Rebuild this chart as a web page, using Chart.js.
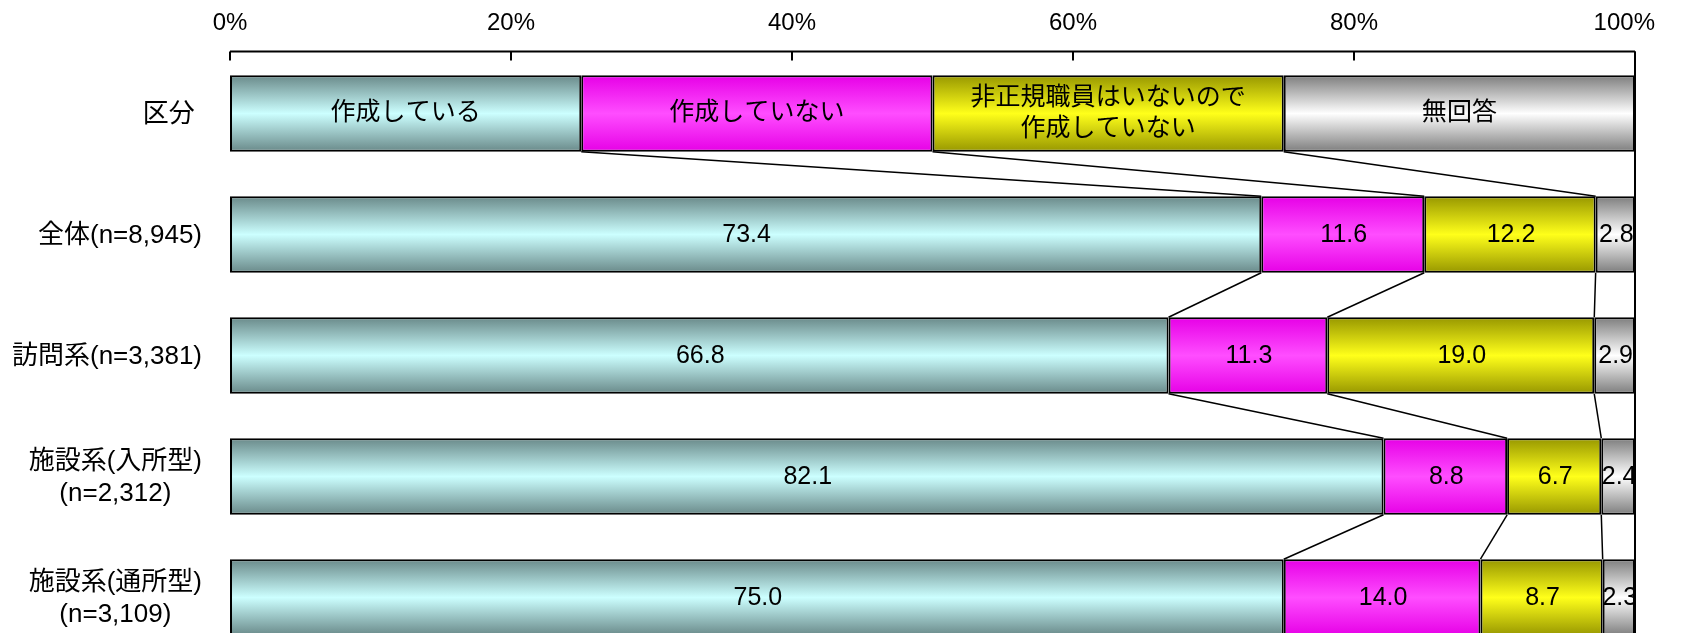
<!DOCTYPE html>
<html>
<head>
<meta charset="utf-8">
<script src="https://cdn.jsdelivr.net/npm/chart.js@4/dist/chart.umd.min.js"></script>
<style>
  html, body { margin: 0; padding: 0; background: #fff; overflow: hidden; }
  #wrap { width: 1684px; height: 633px; overflow: hidden; }
  #box { width: 1684px; height: 660px; }
</style>
</head>
<body>
<div id="wrap"><div id="box"><canvas id="myChart"></canvas></div></div>
<script>
const FONT = "\"Liberation Sans\", Arial, \"Noto Sans CJK JP\", sans-serif";

// categories (row 0 is the legend row "区分")
const categories = [
  ["区分 "],
  ["全体(n=8,945)"],
  ["訪問系(n=3,381)"],
  ["施設系(入所型)", "(n=2,312)"],
  ["施設系(通所型)", "(n=3,109)"],
];
const seriesNames = [
  ["作成している"],
  ["作成していない"],
  ["非正規職員はいないので", "作成していない"],
  ["無回答"],
];
const legendRow = [25, 25, 25, 25];
const sakusei = [73.4, 66.8, 82.1, 75.0];
const miSakusei = [11.6, 11.3, 8.8, 14.0];
const hiseikiNashi = [12.2, 19.0, 6.7, 8.7];
const muKaito = [2.8, 2.9, 2.4, 2.3];
const xTicks = [0, 20, 40, 60, 80, 100];

// dark edge / light center of each bar gradient
const colorPairs = [
  ["#698989", "#ccffff"],
  ["#e600e6", "#ff4dff"],
  ["#979700", "#ffff1a"],
  ["#7d7d7d", "#ffffff"],
];
const BAR_PCT = 0.633;

const seriesValues = [sakusei, miSakusei, hiseikiNashi, muKaito];

function barGradient(ctx, pair) {
  const chart = ctx.chart;
  const yScale = chart.scales.y;
  if (!chart.chartArea || !yScale || ctx.type !== "data") return pair[1];
  const y = yScale.getPixelForValue(ctx.dataIndex);
  const pitch = Math.abs(yScale.getPixelForValue(1) - yScale.getPixelForValue(0));
  const half = pitch * BAR_PCT / 2;
  const g = chart.ctx.createLinearGradient(0, y - half, 0, y + half);
  g.addColorStop(0, pair[0]);
  g.addColorStop(0.5, pair[1]);
  g.addColorStop(1, pair[0]);
  return g;
}

const datasets = seriesNames.map((name, k) => ({
  label: name.join(""),
  data: [legendRow[k]].concat(seriesValues[k]),
  backgroundColor: (ctx) => barGradient(ctx, colorPairs[k]),
  borderColor: "#000",
  borderWidth: 2,
  borderSkipped: false,
  barPercentage: BAR_PCT,
  categoryPercentage: 1,
}));

const extras = {
  id: "extras",
  afterDatasetsDraw(chart) {
    const c = chart.ctx;
    const area = chart.chartArea;
    const x = chart.scales.x;
    const y = chart.scales.y;
    const axisY = area.top - 1.5;
    c.save();
    c.strokeStyle = "#000";
    c.lineWidth = 1.5;

    // series lines between the rows
    const metas = chart.data.datasets.map((d, i) => chart.getDatasetMeta(i));
    for (let k = 0; k < 3; k++) {
      const els = metas[k].data;
      for (let r = 0; r < els.length - 1; r++) {
        const a = els[r];
        const b = els[r + 1];
        c.beginPath();
        c.moveTo(a.x, a.y + a.height / 2);
        c.lineTo(b.x, b.y - b.height / 2);
        c.stroke();
      }
    }

    // right edge line at 100%
    c.lineWidth = 2;
    const xr = x.getPixelForValue(100);
    c.beginPath();
    c.moveTo(xr, axisY);
    c.lineTo(xr, area.bottom);
    c.stroke();

    // top axis with ticks pointing down
    c.beginPath();
    c.moveTo(x.getPixelForValue(0), axisY);
    c.lineTo(xr, axisY);
    xTicks.forEach((v) => {
      const px = x.getPixelForValue(v);
      c.moveTo(px, axisY);
      c.lineTo(px, axisY + 9);
    });
    c.stroke();

    // tick labels (last one kept inside the canvas like Excel does)
    c.font = "24px " + FONT;
    c.fillStyle = "#000";
    c.textAlign = "center";
    c.textBaseline = "middle";
    xTicks.forEach((v) => {
      const t = v + "%";
      const w = c.measureText(t).width;
      let px = x.getPixelForValue(v);
      px = Math.min(px, chart.width - 29 - w / 2);
      c.fillText(t, px, 23);
    });
    c.restore();

    // data labels
    c.save();
    c.fillStyle = "#000";
    c.textAlign = "center";
    c.textBaseline = "middle";
    c.beginPath();
    c.rect(area.left, 0, area.right - area.left, chart.height);
    c.clip();
    metas.forEach((meta, k) => {
      meta.data.forEach((el, r) => {
        const cx = (el.x + el.base) / 2;
        if (r === 0) {
          c.font = "25px " + FONT;
          const lines = seriesNames[k];
          lines.forEach((t, i) => {
            c.fillText(t, cx, el.y + (i - (lines.length - 1) / 2) * 31);
          });
        } else {
          c.font = "25px " + FONT;
          c.fillText(seriesValues[k][r - 1].toFixed(1), cx + 1, el.y + 1);
        }
      });
    });
    c.restore();

    // category labels
    c.save();
    c.font = "26px " + FONT;
    c.fillStyle = "#000";
    c.textAlign = "center";
    c.textBaseline = "middle";
    const rightEdge = area.left - 28;
    categories.forEach((lines, r) => {
      const cy = y.getPixelForValue(r);
      const w = Math.max(...lines.map((t) => c.measureText(t).width));
      lines.forEach((t, i) => {
        c.fillText(t, rightEdge - w / 2, cy + 1 + (i - (lines.length - 1) / 2) * 32);
      });
    });
    c.restore();
  },
};

const ctx = document.getElementById("myChart").getContext("2d");
const myChart = new Chart(ctx, {
  type: "bar",
  data: {
    labels: categories.map((l) => l.join("")),
    datasets: datasets,
  },
  options: {
    indexAxis: "y",
    responsive: true,
    maintainAspectRatio: false,
    animation: false,
    layout: {padding: {top: 0, right: 49, bottom: 2, left: 0}},
    plugins: {
      legend: {display: false},
      tooltip: {enabled: false},
    },
    scales: {
      x: {
        position: "top",
        stacked: true,
        min: 0,
        max: 100,
        afterBuildTicks: (scale) => {
          scale.ticks = xTicks.map((v) => ({value: v}));
        },
        afterFit: (scale) => {
          scale.height = 53;
        },
        grid: {display: false, drawTicks: false},
        border: {display: false},
        ticks: {display: false},
      },
      y: {
        stacked: true,
        afterFit: (scale) => {
          scale.width = 230;
        },
        grid: {display: false},
        border: {display: false},
        ticks: {display: false},
      },
    },
  },
  plugins: [extras],
});
</script>
</body>
</html>
